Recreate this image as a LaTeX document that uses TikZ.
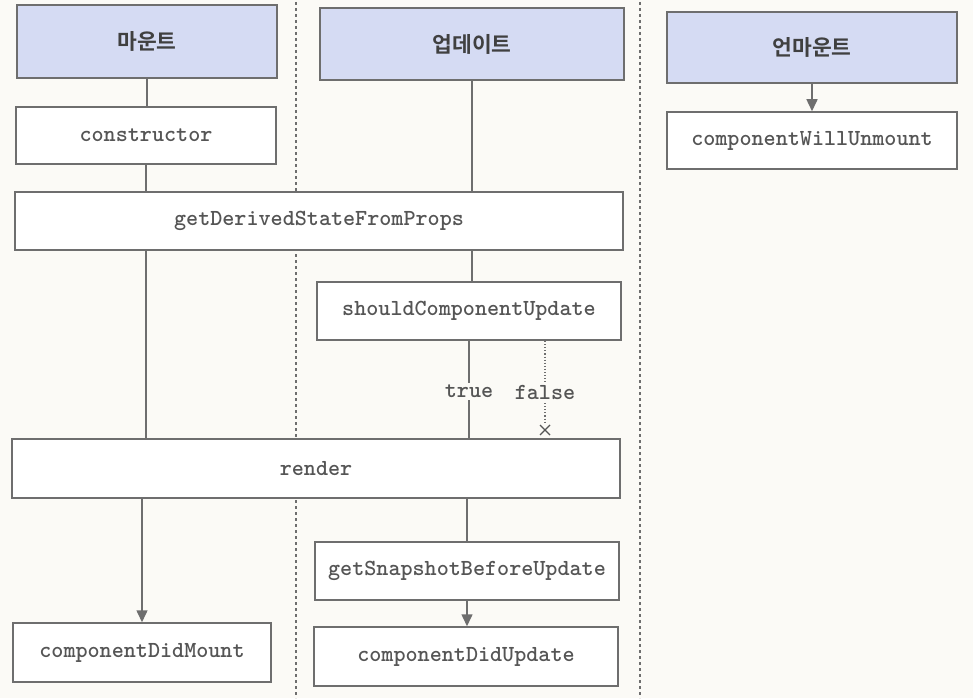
\documentclass[tikz,border=0pt]{standalone}
\usepackage{fontspec}
\newfontfamily\krb{Noto Sans CJK KR Bold}
\usetikzlibrary{arrows.meta}
\definecolor{bgc}{HTML}{FBFAF6}
\definecolor{hdr}{HTML}{D5DBF3}
\definecolor{edge}{HTML}{6E6E6E}
\definecolor{txt}{HTML}{555555}
\tikzset{
  box/.style={draw=edge, line width=1.5pt, fill=white, inner sep=0pt, font=\ttfamily\bfseries\fontsize{23}{24}\selectfont, text=txt},
  hbox/.style={box, fill=hdr, font=\krb\fontsize{21.5}{22}\selectfont, text=black!75},
  conn/.style={draw=edge, line width=1.5pt},
  arr/.style={conn, -{Triangle[length=12pt,width=11pt]}},
  lbl/.style={fill=bgc, inner sep=2pt, font=\ttfamily\bfseries\fontsize{23}{24}\selectfont, text=txt},
  divider/.style={draw=edge, line width=1.1pt, dash pattern=on 3pt off 3pt}
}
\begin{document}
\begin{tikzpicture}[x=1pt,y=-1pt]
\fill[bgc] (0,0) rectangle (973,698);
\useasboundingbox (0,0) rectangle (973,698);
% dividers
\coordinate (d1t) at (296,2);
\coordinate (d1b) at (296,698);
\coordinate (d2t) at (640,2);
\coordinate (d2b) at (640,698);
\draw[divider] (d1t) -- (d1b);
\draw[divider] (d2t) -- (d2b);
% headers
\node[hbox, minimum width=260pt, minimum height=73pt] (mh) at (147,41.5) {마운트};
\node[hbox, minimum width=304pt, minimum height=72pt] (uh) at (472,44) {업데이트};
\node[hbox, minimum width=290pt, minimum height=71pt] (umh) at (812,47.5) {언마운트};
% boxes
\node[box, minimum width=260pt, minimum height=57pt] (con) at (146,135.5) {constructor};
\node[box, minimum width=608pt, minimum height=58pt] (gd) at (319,221) {getDerivedStateFromProps};
\node[box, minimum width=304pt, minimum height=58pt] (scu) at (469,311) {shouldComponentUpdate};
\node[box, minimum width=608pt, minimum height=59pt] (rn) at (316,468.5) {render};
\node[box, minimum width=258pt, minimum height=59pt] (cdm) at (142,652.5) {componentDidMount};
\node[box, minimum width=304pt, minimum height=58pt] (gsb) at (467,571) {getSnapshotBeforeUpdate};
\node[box, minimum width=304pt, minimum height=59pt] (cdu) at (466,656.5) {componentDidUpdate};
\node[box, minimum width=290pt, minimum height=57pt] (cwu) at (812,140.5) {componentWillUnmount};
% mount column
\draw[conn] (mh.south) -- (mh.south |- con.north);
\draw[conn] (con.south) -- (con.south |- gd.north);
\draw[conn] (con.south |- gd.south) -- (con.south |- rn.north);
\draw[arr] (cdm.north |- rn.south) -- (cdm.north);
% update column
\draw[conn] (uh.south) -- (uh.south |- gd.north);
\draw[conn] (uh.south |- gd.south) -- (uh.south |- scu.north);
\draw[conn] (scu.south) -- node[lbl, pos=0.52] (tr) {true} (scu.south |- rn.north);
\coordinate (fs) at (545,341);
\coordinate (fe) at (545,424);
\draw[draw=edge, line width=1.1pt, dotted] (fs) -- node[lbl, pos=0.62] (fl) {false} (fe);
\coordinate (xm) at (545,430);
\draw[draw=txt, line width=1.3pt] (xm) +(-5,-5) -- +(5,5) (xm) +(-5,5) -- +(5,-5);
\draw[conn] (gsb.north |- rn.south) -- (gsb.north);
\draw[arr] (gsb.south) -- (gsb.south |- cdu.north);
% unmount column
\draw[arr] (umh.south) -- (umh.south |- cwu.north);
\end{tikzpicture}
\end{document}
